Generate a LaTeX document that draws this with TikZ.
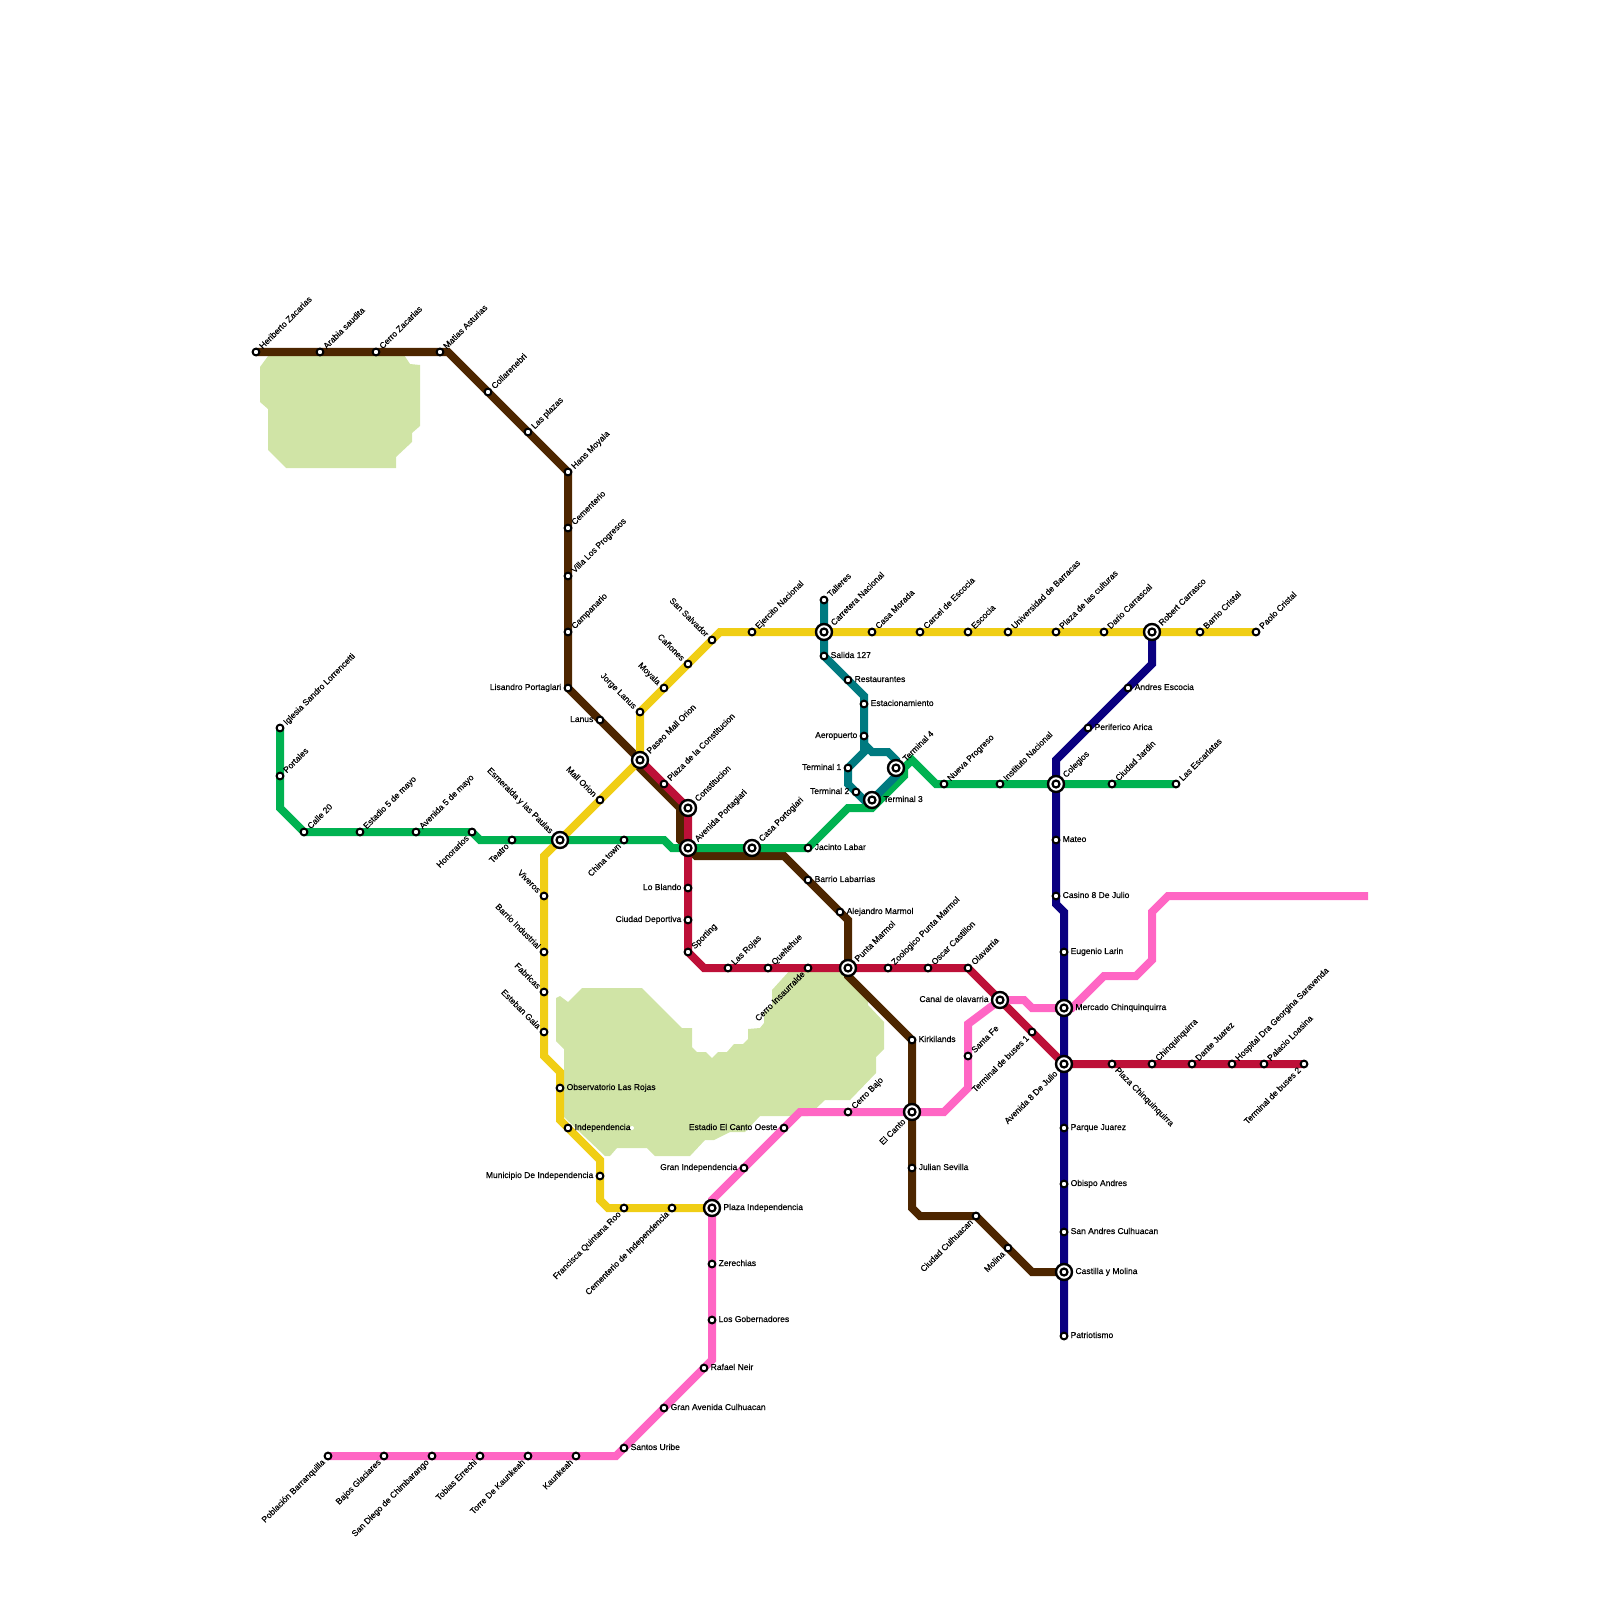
\documentclass[tikz,border=0pt]{standalone}
\usepackage{fontspec}
\setmainfont{Liberation Sans}
\newfontfamily\stnfont[FakeBold=0.35]{Liberation Sans}
\usetikzlibrary{backgrounds}

\definecolor{parkgreen}{HTML}{D0E4A6}
\definecolor{linebrown}{HTML}{4D2600}
\definecolor{lineyellow}{HTML}{F0CE15}
\definecolor{linecrimson}{HTML}{BD1038}
\definecolor{linegreen}{HTML}{00B251}
\definecolor{lineteal}{HTML}{007A80}
\definecolor{linenavy}{HTML}{0A0080}
\definecolor{linepink}{HTML}{FF66C4}

\begin{document}
\begin{tikzpicture}[x=0.01cm, y=-0.01cm,
  stn/.style={circle,draw=black,fill=white,line width=0.02cm,inner sep=0pt,minimum size=0.068cm},
  hub/.style={circle,draw=black,fill=white,line width=0.024cm,inner sep=0pt,minimum size=0.16cm,
    path picture={\draw[line width=0.022cm] (path picture bounding box.center) circle (0.035cm);}},
  every label/.style={font=\stnfont\fontsize{2.42pt}{3pt}\selectfont,inner sep=0.45pt,text height=2.1pt,text depth=0.4pt,text=black},
  label distance=0pt,
  lh/.style={yshift=0.01cm},
  lne/.style={rotate=45,anchor=west},
  lsw/.style={rotate=45,anchor=east},
  lnw/.style={rotate=-45,anchor=east},
  lse/.style={rotate=-45,anchor=west},
  route/.style={line width=0.08cm,line join=miter}]

\path[use as bounding box] (0,0) rectangle (1600,1600);

% Interchange stations
\node[hub,label={[lne]45:Paseo Mall Orion}] (hPaseo) at (640,760) {};
\node[hub,label={[lne]45:Constitucion}] (hConst) at (688,808) {};
\node[hub,label={[lne]45:Avenida Portagiari}] (hAvPort) at (688,848) {};
\node[hub,label={[lne]45:Casa Portogiari}] (hCasa) at (752,848) {};
\node[hub,label={[lne]45:Punta Marmol}] (hPunta) at (848,968) {};
\node[hub,label={[lsw]225:El Canto}] (hCanto) at (912,1112) {};
\node[hub,label={[lh]0:Castilla y Molina}] (hCast) at (1064,1272) {};
\node[hub,label={[lh]0:Mercado Chinquinquirra}] (hMerc) at (1064,1008) {};
\node[hub,label={[lsw]225:Avenida 8 De Julio}] (hAv8) at (1064,1064) {};
\node[hub,label={[lh]180:Canal de olavarria}] (hCanal) at (1000,1000) {};
\node[hub,label={[lne]45:Colegios}] (hCol) at (1056,784) {};
\node[hub,label={[lne]45:Robert Carrasco}] (hRob) at (1152,632) {};
\node[hub,label={[lne]45:Carretera Nacional}] (hCarr) at (824,632) {};
\node[hub,label={[lne]45:Terminal 4}] (hTfour) at (896,768) {};
\node[hub,label={[lh]0:Terminal 3}] (hTthree) at (872,800) {};
\node[hub,label={[lnw]135:Esmeralda y las Paulas}] (hEsm) at (560,840) {};
\node[hub,label={[lh]0:Plaza Independencia}] (hPlaza) at (712,1208) {};

% Brown line stations
\node[stn,label={[lne]45:Heriberto Zacarias}] (br1) at (256,352) {};
\node[stn,label={[lne]45:Arabia saudita}] (br2) at (320,352) {};
\node[stn,label={[lne]45:Cerro Zacarias}] (br3) at (376,352) {};
\node[stn,label={[lne]45:Matias Asturias}] (br4) at (440,352) {};
\node[stn,label={[lne]45:Collarenebri}] (br5) at (488,392) {};
\node[stn,label={[lne]45:Las plazas}] (br6) at (528,432) {};
\node[stn,label={[lne]45:Hans Moyala}] (br7) at (568,472) {};
\node[stn,label={[lne]45:Cementerio}] (br8) at (568,528) {};
\node[stn,label={[lne]45:Villa Los Progresos}] (br9) at (568,576) {};
\node[stn,label={[lne]45:Campanario}] (br10) at (568,632) {};
\node[stn,label={[lh]180:Lisandro Portaglari}] (br11) at (568,688) {};
\node[stn,label={[lh]180:Lanus}] (br12) at (600,720) {};
\node[stn,label={[lh]0:Barrio Labarrias}] (br13) at (808,880) {};
\node[stn,label={[lh]0:Alejandro Marmol}] (br14) at (840,912) {};
\node[stn,label={[lh]0:Kirkilands}] (br15) at (912,1040) {};
\node[stn,label={[lh]0:Julian Sevilla}] (br16) at (912,1168) {};
\node[stn,label={[lsw]225:Ciudad Culhuacan}] (br17) at (976,1216) {};
\node[stn,label={[lsw]225:Molina}] (br18) at (1008,1248) {};

% Yellow line stations
\node[stn,label={[lnw]135:San Salvador}] (ye1) at (712,640) {};
\node[stn,label={[lnw]135:Cañones}] (ye2) at (688,664) {};
\node[stn,label={[lnw]135:Moyala}] (ye3) at (664,688) {};
\node[stn,label={[lnw]135:Jorge Lanus}] (ye4) at (640,712) {};
\node[stn,label={[lne]45:Ejercito Nacional}] (ye5) at (752,632) {};
\node[stn,label={[lne]45:Casa Morada}] (ye6) at (872,632) {};
\node[stn,label={[lne]45:Carcel de Escocia}] (ye7) at (920,632) {};
\node[stn,label={[lne]45:Escocia}] (ye8) at (968,632) {};
\node[stn,label={[lne]45:Universidad de Barracas}] (ye9) at (1008,632) {};
\node[stn,label={[lne]45:Plaza de las culturas}] (ye10) at (1056,632) {};
\node[stn,label={[lne]45:Dario Carrascal}] (ye11) at (1104,632) {};
\node[stn,label={[lne]45:Barrio Cristal}] (ye12) at (1200,632) {};
\node[stn,label={[lne]45:Paolo Cristal}] (ye13) at (1256,632) {};
\node[stn,label={[lnw]135:Mall Orion}] (ye14) at (600,800) {};
\node[stn,label={[lnw]135:Viveros}] (ye15) at (544,896) {};
\node[stn,label={[lnw]135:Barrio Industrial}] (ye16) at (544,952) {};
\node[stn,label={[lnw]135:Fabricas}] (ye17) at (544,992) {};
\node[stn,label={[lnw]135:Esteban Gaia}] (ye18) at (544,1032) {};
\node[stn,label={[lh]0:Observatorio Las Rojas}] (ye19) at (560,1088) {};
\node[stn,label={[lh]0:Independencia}] (ye20) at (568,1128) {};
\node[stn,label={[lh]180:Municipio De Independencia}] (ye21) at (600,1176) {};
\node[stn,label={[lsw]225:Francisca Quintana Roo}] (ye22) at (624,1208) {};
\node[stn,label={[lsw]225:Cementerio de Independencia}] (ye23) at (672,1208) {};

% Teal line stations
\node[stn,label={[lne]45:Talleres}] (te1) at (824,600) {};
\node[stn,label={[lh]0:Salida 127}] (te2) at (824,656) {};
\node[stn,label={[lh]0:Restaurantes}] (te3) at (848,680) {};
\node[stn,label={[lh]0:Estacionamiento}] (te4) at (864,704) {};
\node[stn,label={[lh]180:Aeropuerto}] (te5) at (864,736) {};
\node[stn,label={[lh]180:Terminal 1}] (te6) at (848,768) {};
\node[stn,label={[lh]180:Terminal 2}] (te7) at (856,792) {};

% Green line stations
\node[stn,label={[lne]45:Iglesia Sandro Lorrencetti}] (gr1) at (280,728) {};
\node[stn,label={[lne]45:Portales}] (gr2) at (280,776) {};
\node[stn,label={[lne]45:Calle 20}] (gr3) at (304,832) {};
\node[stn,label={[lne]45:Estadio 5 de mayo}] (gr4) at (360,832) {};
\node[stn,label={[lne]45:Avenida 5 de mayo}] (gr5) at (416,832) {};
\node[stn,label={[lsw]225:Honorarios}] (gr6) at (472,832) {};
\node[stn,label={[lsw]225:Teatro}] (gr7) at (512,840) {};
\node[stn,label={[lsw]225:China town}] (gr8) at (624,840) {};
\node[stn,label={[lh]0:Jacinto Labar}] (gr9) at (808,848) {};
\node[stn,label={[lne]45:Nueva Progreso}] (gr10) at (944,784) {};
\node[stn,label={[lne]45:Instituto Nacional}] (gr11) at (1000,784) {};
\node[stn,label={[lne]45:Ciudad Jardin}] (gr12) at (1112,784) {};
\node[stn,label={[lne]45:Las Escarlatas}] (gr13) at (1176,784) {};

% Navy line stations
\node[stn,label={[lh]0:Andres Escocia}] (na1) at (1128,688) {};
\node[stn,label={[lh]0:Periferico Arica}] (na2) at (1088,728) {};
\node[stn,label={[lh]0:Mateo}] (na3) at (1056,840) {};
\node[stn,label={[lh]0:Casino 8 De Julio}] (na4) at (1056,896) {};
\node[stn,label={[lh]0:Eugenio Larin}] (na5) at (1064,952) {};
\node[stn,label={[lh]0:Parque Juarez}] (na6) at (1064,1128) {};
\node[stn,label={[lh]0:Obispo Andres}] (na7) at (1064,1184) {};
\node[stn,label={[lh]0:San Andres Culhuacan}] (na8) at (1064,1232) {};
\node[stn,label={[lh]0:Patriotismo}] (na9) at (1064,1336) {};

% Crimson line stations
\node[stn,label={[lne]45:Plaza de la Constitucion}] (cr1) at (664,784) {};
\node[stn,label={[lh]180:Lo Blando}] (cr2) at (688,888) {};
\node[stn,label={[lh]180:Ciudad Deportiva}] (cr3) at (688,920) {};
\node[stn,label={[lne]45:Sporting}] (cr4) at (688,952) {};
\node[stn,label={[lne]45:Las Rojas}] (cr5) at (728,968) {};
\node[stn,label={[lne]45:Queltehue}] (cr6) at (768,968) {};
\node[stn,label={[lsw]225:Cerro Insaurralde}] (cr7) at (808,968) {};
\node[stn,label={[lne]45:Zoologico Punta Marmol}] (cr8) at (888,968) {};
\node[stn,label={[lne]45:Oscar Castillon}] (cr9) at (928,968) {};
\node[stn,label={[lne]45:Olavarria}] (cr10) at (968,968) {};
\node[stn,label={[lsw]225:Terminal de buses 1}] (cr11) at (1032,1032) {};
\node[stn,label={[lse]-45:Plaza Chinquinquirra}] (cr12) at (1112,1064) {};
\node[stn,label={[lne]45:Chinquinquirra}] (cr13) at (1152,1064) {};
\node[stn,label={[lne]45:Dante Juarez}] (cr14) at (1192,1064) {};
\node[stn,label={[lne]45:Hospital Dra Georgina Saravenda}] (cr15) at (1232,1064) {};
\node[stn,label={[lne]45:Palacio Loasina}] (cr16) at (1264,1064) {};
\node[stn,label={[lsw]225:Terminal de buses 2}] (cr17) at (1304,1064) {};

% Pink line stations
\node[stn,label={[lne]45:Santa Fe}] (pk1) at (968,1056) {};
\node[stn,label={[lne]45:Cerro Bajo}] (pk2) at (848,1112) {};
\node[stn,label={[lh]180:Estadio El Canto Oeste}] (pk3) at (784,1128) {};
\node[stn,label={[lh]180:Gran Independencia}] (pk4) at (744,1168) {};
\node[stn,label={[lh]0:Zerechias}] (pk5) at (712,1264) {};
\node[stn,label={[lh]0:Los Gobernadores}] (pk6) at (712,1320) {};
\node[stn,label={[lh]0:Rafael Neir}] (pk7) at (704,1368) {};
\node[stn,label={[lh]0:Gran Avenida Culhuacan}] (pk8) at (664,1408) {};
\node[stn,label={[lh]0:Santos Uribe}] (pk9) at (624,1448) {};
\node[stn,label={[lsw]225:Kaunkeah}] (pk10) at (576,1456) {};
\node[stn,label={[lsw]225:Torre De Kaunkeah}] (pk11) at (528,1456) {};
\node[stn,label={[lsw]225:Tobias Errechi}] (pk12) at (480,1456) {};
\node[stn,label={[lsw]225:San Diego de Chimbarango}] (pk13) at (432,1456) {};
\node[stn,label={[lsw]225:Bajos Glaciares}] (pk14) at (384,1456) {};
\node[stn,label={[lsw]225:Población Barranquilla}] (pk15) at (328,1456) {};

% Bends of the lines
\coordinate (bb1) at (448,352);
\coordinate (bb2) at (640,768);
\coordinate (bb3) at (680,808);
\coordinate (bb4) at (680,840);
\coordinate (bb5) at (696,856);
\coordinate (bb6) at (784,856);
\coordinate (bb7) at (848,920);
\coordinate (bb8) at (848,976);
\coordinate (bb9) at (912,1208);
\coordinate (bb10) at (920,1216);
\coordinate (bb11) at (1032,1272);

\coordinate (yb1) at (720,632);
\coordinate (yb2) at (544,856);
\coordinate (yb3) at (544,1056);
\coordinate (yb4) at (560,1072);
\coordinate (yb5) at (560,1120);
\coordinate (yb6) at (600,1160);
\coordinate (yb7) at (600,1200);
\coordinate (yb8) at (608,1208);

\coordinate (cb1) at (704,968);

\coordinate (gb1) at (280,808);
\coordinate (gb2) at (480,840);
\coordinate (gb3) at (664,840);
\coordinate (gb4) at (672,848);
\coordinate (gb5) at (848,808);
\coordinate (gb6) at (872,808);
\coordinate (gb7) at (904,776);
\coordinate (gb8) at (904,768);
\coordinate (gb9) at (912,760);
\coordinate (gb10) at (936,784);

\coordinate (tb1) at (864,696);
\coordinate (tb2) at (864,744);
\coordinate (tb3) at (872,752);
\coordinate (tb4) at (888,752);
\coordinate (tb5) at (896,760);
\coordinate (tb6) at (864,752);
\coordinate (tb7) at (848,784);
\coordinate (tb8) at (864,800);
\coordinate (tb9) at (896,776);

\coordinate (nb1) at (1152,664);
\coordinate (nb2) at (1056,760);
\coordinate (nb3) at (1056,904);
\coordinate (nb4) at (1064,912);

\coordinate (pb1) at (1368,896);
\coordinate (pb2) at (1168,896);
\coordinate (pb3) at (1152,912);
\coordinate (pb4) at (1152,960);
\coordinate (pb5) at (1136,976);
\coordinate (pb6) at (1104,976);
\coordinate (pb7) at (1072,1008);
\coordinate (pb8) at (1032,1008);
\coordinate (pb9) at (1024,1000);
\coordinate (pb10) at (968,1024);
\coordinate (pb11) at (968,1088);
\coordinate (pb12) at (944,1112);
\coordinate (pb13) at (800,1112);
\coordinate (pb14) at (712,1200);
\coordinate (pb15) at (712,1360);
\coordinate (pb16) at (616,1456);

\begin{scope}[on background layer]
% Green areas
\fill[parkgreen] (271,352) -- (260,367) -- (260,402) -- (268,409) -- (268,450) -- (286,468) -- (396,468) -- (396,457)
  -- (412,442) -- (412,433) -- (420,426) -- (420,365) -- (410,364) -- (402,352) -- cycle;
\fill[parkgreen] (556,998) -- (560,996) -- (568,1002) -- (582,988) -- (642,988) -- (682,1028) -- (692,1028) -- (692,1047)
  -- (697,1052) -- (706,1052) -- (712,1058) -- (718,1052) -- (727,1052) -- (734,1044) -- (743,1044) -- (748,1039)
  -- (748,1029) -- (760,1028) -- (764,1023) -- (764,1013) -- (772,1005) -- (772,990) -- (792,968) -- (848,968)
  -- (868,997) -- (868,1005) -- (884,1022) -- (884,1049) -- (876,1057) -- (876,1073) -- (850,1100) -- (825,1100)
  -- (808,1116) -- (760,1116) -- (745,1132) -- (730,1132) -- (714,1140) -- (705,1140) -- (690,1156) -- (655,1156)
  -- (647,1148) -- (617,1148) -- (610,1156) -- (605,1156) -- (564,1117) -- (564,1049) -- (556,1041) -- cycle;
\fill[white] (632,1128) circle (2);

% Brown line
\draw[route,linebrown] (br1.center)--(br2.center)--(br3.center)--(br4.center)--(bb1)--(br5.center)--(br6.center)--(br7.center)
  --(br8.center)--(br9.center)--(br10.center)--(br11.center)--(br12.center)--(hPaseo.center)--(bb2)--(bb3)--(bb4)--(hAvPort.center)
  --(bb5)--(bb6)--(br13.center)--(br14.center)--(bb7)--(hPunta.center)--(bb8)--(br15.center)--(hCanto.center)--(br16.center)
  --(bb9)--(bb10)--(br17.center)--(br18.center)--(bb11)--(hCast.center);

% Crimson line
\draw[route,linecrimson] (hPaseo.center)--(cr1.center)--(hConst.center)--(hAvPort.center)--(cr2.center)--(cr3.center)--(cr4.center)
  --(cb1)--(cr5.center)--(cr6.center)--(cr7.center)--(hPunta.center)--(cr8.center)--(cr9.center)--(cr10.center)--(hCanal.center)
  --(cr11.center)--(hAv8.center)--(cr12.center)--(cr13.center)--(cr14.center)--(cr15.center)--(cr16.center)--(cr17.center);

% Yellow line
\draw[route,lineyellow] (hPlaza.center)--(ye23.center)--(ye22.center)--(yb8)--(yb7)--(ye21.center)--(yb6)--(ye20.center)--(yb5)
  --(ye19.center)--(yb4)--(yb3)--(ye18.center)--(ye17.center)--(ye16.center)--(ye15.center)--(yb2)--(hEsm.center)--(ye14.center)
  --(hPaseo.center)--(ye4.center)--(ye3.center)--(ye2.center)--(ye1.center)--(yb1)--(ye5.center)--(hCarr.center)--(ye6.center)
  --(ye7.center)--(ye8.center)--(ye9.center)--(ye10.center)--(ye11.center)--(hRob.center)--(ye12.center)--(ye13.center);

% Navy line
\draw[route,linenavy] (hRob.center)--(nb1)--(na1.center)--(na2.center)--(nb2)--(hCol.center)--(na3.center)--(na4.center)--(nb3)--(nb4)
  --(na5.center)--(hMerc.center)--(hAv8.center)--(na6.center)--(na7.center)--(na8.center)--(hCast.center)--(na9.center);

% Pink line
\draw[route,linepink] (pb1)--(pb2)--(pb3)--(pb4)--(pb5)--(pb6)--(pb7)--(hMerc.center)--(pb8)--(pb9)--(hCanal.center)--(pb10)--(pk1.center)
  --(pb11)--(pb12)--(hCanto.center)--(pk2.center)--(pb13)--(pk3.center)--(pk4.center)--(pb14)--(hPlaza.center)--(pk5.center)--(pk6.center)
  --(pb15)--(pk7.center)--(pk8.center)--(pk9.center)--(pb16)--(pk10.center)--(pk11.center)--(pk12.center)--(pk13.center)--(pk14.center)--(pk15.center);

% Green line
\draw[route,linegreen] (gr1.center)--(gr2.center)--(gb1)--(gr3.center)--(gr4.center)--(gr5.center)--(gr6.center)--(gb2)--(gr7.center)
  --(hEsm.center)--(gr8.center)--(gb3)--(gb4)--(hAvPort.center)--(hCasa.center)--(gr9.center)--(gb5)--(gb6)--(gb7)--(gb8)--(gb9)--(gb10)
  --(gr10.center)--(gr11.center)--(hCol.center)--(gr12.center)--(gr13.center);

% Teal line
\draw[route,lineteal] (te1.center)--(hCarr.center)--(te2.center)--(te3.center)--(tb1)--(te4.center)--(te5.center)--(tb2)--(tb3)--(tb4)
  --(tb5)--(hTfour.center)--(tb9)--(hTthree.center);
\draw[route,lineteal] (te5.center)--(tb6)--(te6.center)--(tb7)--(te7.center)--(tb8)--(hTthree.center);
\end{scope}
\end{tikzpicture}
\end{document}
